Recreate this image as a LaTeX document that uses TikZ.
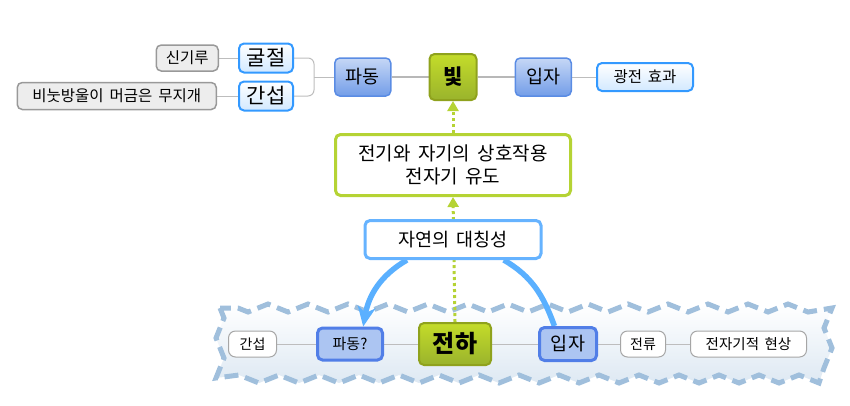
\documentclass[tikz,border=0pt]{standalone}
\usepackage{fontspec}
\setmainfont{Noto Sans CJK KR}[WordSpace=1.7]
\usetikzlibrary{arrows.meta,positioning,decorations.pathmorphing,backgrounds,calc}
\definecolor{lime}{HTML}{B5D334}
\definecolor{limedark}{HTML}{8FA21D}
\definecolor{topicblue}{HTML}{5A8CE4}
\definecolor{skyblue}{HTML}{3399FF}
\definecolor{natblue}{HTML}{66B3FF}
\definecolor{arcblue}{HTML}{5AB0FF}
\definecolor{cloudline}{HTML}{A0BFDC}
\definecolor{linkgray}{HTML}{BDBDBD}

\begin{document}
\begin{tikzpicture}[x=1pt, y=1pt, >=Stealth,
  box/.style={rounded corners=5pt, inner sep=0pt, align=center, font=\fontsize{18.5}{21}\selectfont},
  mainbox/.style={box, draw=limedark, line width=2pt, top color=lime!80!yellow, bottom color=lime!85!black, font=\bfseries\fontsize{22}{24}\selectfont},
  topicbox/.style={box, draw=topicblue, line width=1.5pt, top color=topicblue!35!white, bottom color=topicblue!85!white},
  subbox/.style={box, draw=skyblue, line width=2pt, top color=white, bottom color=skyblue!22!white, font=\fontsize{21}{23}\selectfont},
  notebox/.style={box, draw=black!40, line width=1.5pt, fill=black!7, font=\fontsize{15.5}{17}\selectfont},
  eqbox/.style={box, draw=lime, line width=3pt, fill=white, font=\fontsize{19}{23}\selectfont},
  natbox/.style={box, draw=natblue, line width=3pt, fill=white},
  qbox/.style={box, draw=topicblue!90!blue, line width=3pt, fill=topicblue!50!white},
  leafbox/.style={box, rounded corners=7pt, draw=black!35, line width=1pt, fill=white, font=\fontsize{14.5}{17}\selectfont},
  link/.style={draw=linkgray, line width=1pt},
  hint/.style={draw=lime, line width=3pt, dash pattern=on 3pt off 3pt, -{Triangle[length=10pt,width=11pt]}},
  arc/.style={draw=arcblue, line width=5.5pt}]
  \useasboundingbox (0,0) rectangle (850,-405);
  % upper map
  \node[mainbox, minimum width=47, minimum height=46, font=\bfseries\fontsize{21}{23}\selectfont] (bj) at (453,-77) {빛};
  \node[topicbox, minimum width=56, minimum height=38, left=37pt of bj] (pt) {파동};
  \node[topicbox, minimum width=56, minimum height=38, right=37pt of bj] (it) {입자};
  \node[subbox, minimum width=96, minimum height=28, right=24pt of it, font=\fontsize{15.5}{18}\selectfont] (gj) {광전 효과};
  \node[subbox, minimum width=54, minimum height=29, left=40pt of pt, yshift=19pt] (gul) {굴절};
  \node[subbox, minimum width=54, minimum height=29, left=40pt of pt, yshift=-19pt] (gan) {간섭};
  \node[notebox, minimum width=62, minimum height=26, left=19pt of gul] (sgr) {신기루};
  \node[notebox, minimum width=199, minimum height=27, left=21pt of gan] (rain) {비눗방울이 머금은 무지개};
  \coordinate (fork) at ($(gul.east)!0.5!(pt.west)$);
  \coordinate (fork) at (fork |- pt.west);
  % middle
  \node[eqbox, minimum width=235, minimum height=61, below=32pt of bj] (em) {전기와 자기의 상호작용\\전자기 유도};
  \node[natbox, minimum width=176, minimum height=38, below=22pt of em] (nat) {자연의 대칭성};
  % lower map
  \node[mainbox, minimum width=72, minimum height=42, font=\bfseries\fontsize{24}{26}\selectfont] (ha) at (455,-344) {전하};
  \node[qbox, minimum width=65, minimum height=32, left=34pt of ha, font=\fontsize{15}{17}\selectfont] (pq) {파동?};
  \node[leafbox, minimum width=48, minimum height=26, left=39pt of pq, font=\fontsize{14}{16}\selectfont] (gb) {간섭};
  \node[qbox, minimum width=57, minimum height=33, right=46pt of ha] (ib) {입자};
  \node[leafbox, minimum width=45, minimum height=26, right=22pt of ib, font=\fontsize{14}{16}\selectfont] (jr) {전류};
  \node[leafbox, minimum width=116, minimum height=26, right=24pt of jr] (jh) {전자기적 현상};
  \begin{pgfonlayer}{background}
    \draw[cloudline, line width=5pt, dash pattern=on 14pt off 7pt, top color=white, bottom color=cloudline!35!white,
      decorate, decoration={zigzag, segment length=40pt, amplitude=4pt}]
      (220,-308) rectangle (828,-379);
    \draw[link, line width=2pt, draw=black!28] (pt) -- (bj);
    \draw[link, line width=2pt, draw=black!28] (bj) -- (it);
    \draw[link] (it) -- (gj);
    \draw[link] (sgr) -- (gul);
    \draw[link] (rain) -- (gan);
    \draw[link, rounded corners=6pt] (gul.east) -| (fork) |- (gan.east);
    \draw[link] (fork) -- (pt.west);
    \draw[link] (gb) -- (pq);
    \draw[link] (pq) -- (ha);
    \draw[link] (ha) -- (ib);
    \draw[link] (ib) -- (jr);
    \draw[link] (jr) -- (jh);
    \draw[hint] (em.north) -- (bj.south);
    \draw[hint] (ha.north) -- (em.south);
    \draw[arc, -{Stealth[length=20pt,width=18pt]}] (nat.204) to[out=210, in=80] (pq.53);
    \draw[arc] (nat.338) to[out=-30, in=110] (ib.127);
  \end{pgfonlayer}
\end{tikzpicture}
\end{document}
